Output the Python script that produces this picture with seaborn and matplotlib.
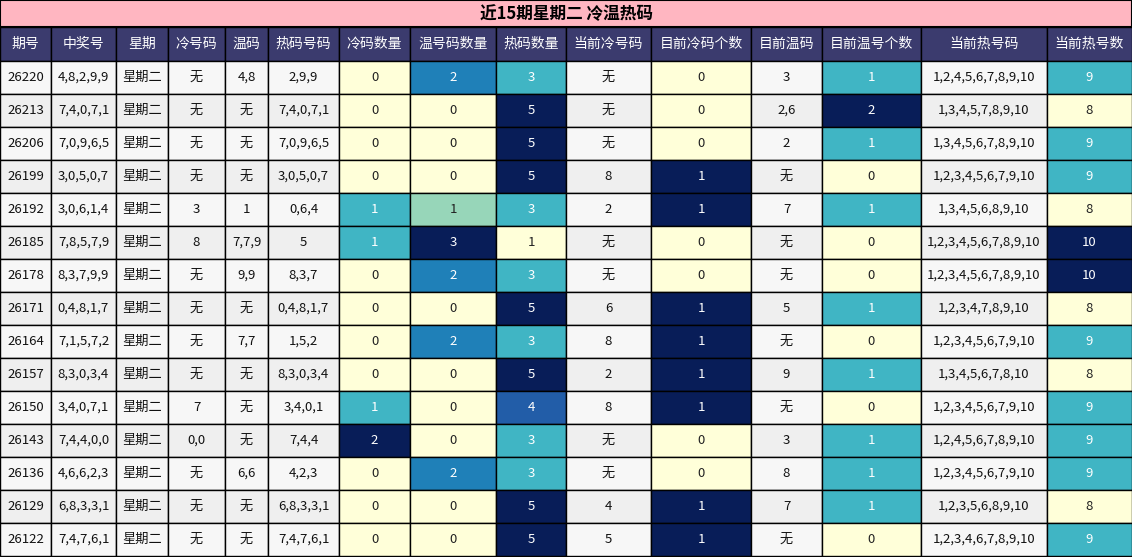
import matplotlib
matplotlib.use("Agg")
import matplotlib.pyplot as plt
import seaborn as sns
import numpy as np
from matplotlib.patches import Rectangle
from matplotlib.colors import Normalize

sns.set_theme(style="white")
plt.rcParams['font.family'] = ['Noto Sans CJK SC', 'DejaVu Sans']

title = "近15期星期二 冷温热码"
headers = ["期号", "中奖号", "星期", "冷号码", "温码", "热码号码", "冷码数量", "温号码数量", "热码数量",
           "当前冷号码", "目前冷码个数", "目前温码", "目前温号个数", "当前热号码", "当前热号数"]
issues = ["26220","26213","26206","26199","26192","26185","26178","26171","26164","26157","26150","26143","26136","26129","26122"]
winning = ["4,8,2,9,9","7,4,0,7,1","7,0,9,6,5","3,0,5,0,7","3,0,6,1,4","7,8,5,7,9","8,3,7,9,9","0,4,8,1,7",
           "7,1,5,7,2","8,3,0,3,4","3,4,0,7,1","7,4,4,0,0","4,6,6,2,3","6,8,3,3,1","7,4,7,6,1"]
weekday = ["星期二"] * 15
cold = ["无","无","无","无","3","8","无","无","无","无","7","0,0","无","无","无"]
warm = ["4,8","无","无","无","1","7,7,9","9,9","无","7,7","无","无","无","6,6","无","无"]
hot = ["2,9,9","7,4,0,7,1","7,0,9,6,5","3,0,5,0,7","0,6,4","5","8,3,7","0,4,8,1,7","1,5,2","8,3,0,3,4",
       "3,4,0,1","7,4,4","4,2,3","6,8,3,3,1","7,4,7,6,1"]
cold_n = [0,0,0,0,1,1,0,0,0,0,1,2,0,0,0]
warm_n = [2,0,0,0,1,3,2,0,2,0,0,0,2,0,0]
hot_n = [3,5,5,5,3,1,3,5,3,5,4,3,3,5,5]
cur_cold = ["无","无","无","8","2","无","无","6","8","2","8","无","无","4","5"]
cur_cold_n = [0,0,0,1,1,0,0,1,1,1,1,0,0,1,1]
cur_warm = ["3","2,6","2","无","7","无","无","5","无","9","无","3","8","7","无"]
cur_warm_n = [1,2,1,0,1,0,0,1,0,1,0,1,1,1,0]
cur_hot = ["1,2,4,5,6,7,8,9,10","1,3,4,5,7,8,9,10","1,3,4,5,6,7,8,9,10","1,2,3,4,5,6,7,9,10","1,3,4,5,6,8,9,10",
           "1,2,3,4,5,6,7,8,9,10","1,2,3,4,5,6,7,8,9,10","1,2,3,4,7,8,9,10","1,2,3,4,5,6,7,9,10","1,3,4,5,6,7,8,10",
           "1,2,3,4,5,6,7,9,10","1,2,4,5,6,7,8,9,10","1,2,3,4,5,6,7,9,10","1,2,3,5,6,8,9,10","1,2,3,4,6,7,8,9,10"]
cur_hot_n = [9,8,9,9,8,10,10,8,9,8,9,9,9,8,9]

columns = [issues, winning, weekday, cold, warm, hot, cold_n, warm_n, hot_n,
           cur_cold, cur_cold_n, cur_warm, cur_warm_n, cur_hot, cur_hot_n]
numeric = {6, 7, 8, 10, 12, 14}
edges = [0, 51, 116, 168, 225, 268, 339, 410, 496, 566, 651, 751, 822, 921, 1047, 1132]

cmap = sns.color_palette("YlGnBu", as_cmap=True)
fig = plt.figure(figsize=(11.32, 5.57), dpi=100)
ax = fig.add_axes([0, 0, 1, 1])
ax.set_xlim(0, 1132)
ax.set_ylim(557, 0)
ax.axis("off")

lw = 1.0
ax.add_patch(Rectangle((0, 0), 1132, 27, facecolor="#ffb6c1", edgecolor="black", lw=1.5))
ax.text(566, 14, title, ha="center", va="center", fontsize=12, fontweight="bold", color="black")
hy0, hy1 = 27, 61
for j, h in enumerate(headers):
    ax.add_patch(Rectangle((edges[j], hy0), edges[j+1]-edges[j], hy1-hy0, facecolor="#3b3b6e", edgecolor="black", lw=lw))
    ax.text((edges[j]+edges[j+1])/2, (hy0+hy1)/2, h, ha="center", va="center", fontsize=10, color="white")

rh = (556 - hy1) / 15
for j, col in enumerate(columns):
    if j in numeric:
        vals = np.array(col, dtype=float)
        norm = Normalize(vals.min(), vals.max())
    for i, v in enumerate(col):
        y = hy1 + i * rh
        if j in numeric:
            t = norm(v)
            fc = cmap(t)
            tc = "white" if t > 0.4 else "#222222"
        else:
            fc = "#f7f7f7" if i % 2 == 0 else "#efefef"
            tc = "#111111"
        ax.add_patch(Rectangle((edges[j], y), edges[j+1]-edges[j], rh, facecolor=fc, edgecolor="black", lw=lw))
        ax.text((edges[j]+edges[j+1])/2, y + rh/2, str(v), ha="center", va="center", fontsize=9.5, color=tc)

fig.savefig("out.png", dpi=100)
